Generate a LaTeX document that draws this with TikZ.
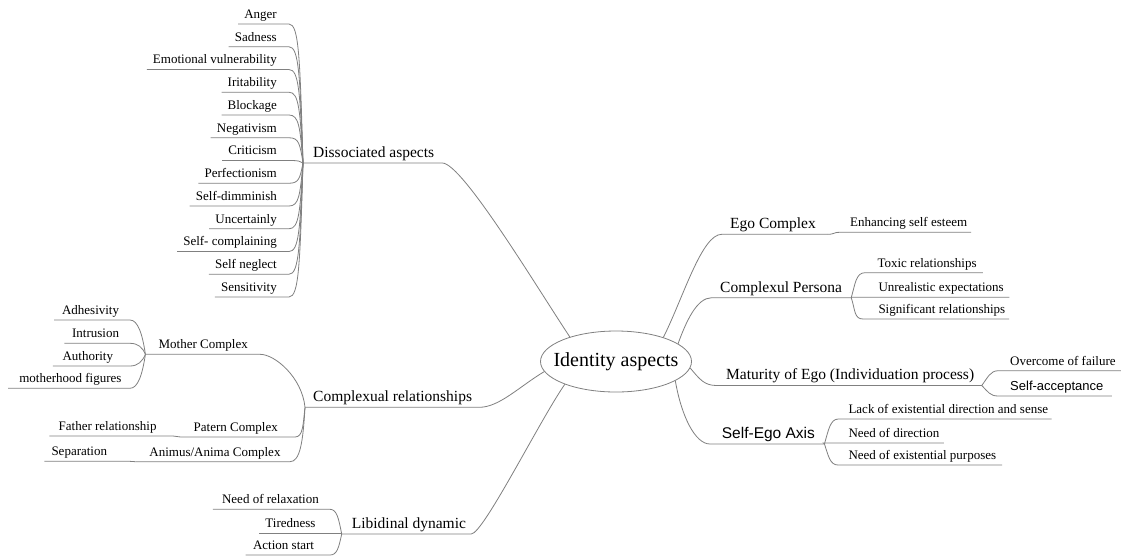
\documentclass[tikz,border=0pt]{standalone}
\usepackage{fontspec}
\setmainfont{Liberation Serif}
\newfontfamily\arialf{Liberation Sans}
\usetikzlibrary{shapes.geometric}
\definecolor{linegray}{RGB}{128,128,128}
\tikzset{
  conn/.style={draw=linegray, line width=0.8pt},
  basenode/.style={inner xsep=0pt, inner ysep=0pt, text depth=5.5pt, text height=10pt, text=black},
  leaf/.style={basenode, font=\fontsize{13}{15}\selectfont},
  leafsans/.style={basenode, font=\arialf\fontsize{13}{15}\selectfont},
  branch/.style={basenode, font=\fontsize{15.5}{18}\selectfont},
  branchsans/.style={basenode, font=\arialf\fontsize{15.5}{18}\selectfont},
  lp/.style={execute at begin node={\hspace*{#1pt}}},
  rp/.style={execute at end node={\hspace*{#1pt}}},
  lside/.style={anchor=south east},
  rside/.style={anchor=south west},
  centre/.style={ellipse, draw=linegray, line width=0.8pt, minimum width=151pt, minimum height=61pt, inner sep=0pt, text=black, font=\fontsize{20}{24}\selectfont}
}
\begin{document}
\begin{tikzpicture}[x=1pt,y=1pt]
\useasboundingbox (0,0) rectangle (1126,-558);
\fill[white] (0,0) rectangle (1126,-558);

\node[centre] (C) at (616,-361.5) {\makebox[0pt][c]{Identity aspects}};

% ---------- Dissociated aspects ----------
\node[branch, rside, lp=10, rp=8] (dis) at (303,-163) {Dissociated aspects};
\draw[conn] (C.152) .. controls +(-32,48) and +(20,0) .. (dis.south east) -- (dis.south west);
\foreach \n/\t/\k in {d1/Anger/0, d2/Sadness/1, d3/Emotional vulnerability/2, d4/Iritability/3,
  d5/Blockage/4, d6/Negativism/5, d7/Criticism/6, d8/Perfectionism/7, d9/Self-dimminish/8,
  d10/Uncertainly/9, d11/Self- complaining/10, d12/Self neglect/11, d13/Sensitivity/12} {
  \pgfmathsetmacro\yy{24+22.75*\k}
  \node[leaf, lside, lp=6, rp=12] (\n) at (289,-\yy) {\t};
  \draw[conn] (dis.south west) .. controls +(-3,{0.75*(163-\yy)}) and +(10,0) .. (\n.south east) -- (\n.south west);
}

% ---------- Complexual relationships ----------
\node[branch, rside, lp=8, rp=7] (cr) at (305,-407.3) {Complexual relationships};
\draw[conn] (C.188) .. controls +(-25,-15) and +(20,0) .. (cr.south east) -- (cr.south west);

\node[leaf, lside, lp=13, rp=12] (mc) at (260,-354.3) {Mother Complex};
\draw[conn] (cr.south west) .. controls +(-3,30) and +(15,0) .. (mc.south east) -- (mc.south west);
\node[leaf, lside, lp=12.7, rp=17] (pc) at (295,-437) {Patern Complex};
\draw[conn] (cr.south west) .. controls +(-2,-18) and +(8,0) .. (pc.south east) -- (pc.south west);
\node[leaf, lside, lp=13.7, rp=9.3] (ac) at (290,-461.7) {Animus/Anima Complex};
\draw[conn] (cr.south west) .. controls +(-2,-35) and +(10,0) .. (ac.south east) -- (ac.south west);

\node[leaf, lside, lp=9, rp=16.3] (fr) at (173,-436) {Father relationship};
\draw[conn] (pc.south west) .. controls +(-4,0) and +(4,0) .. (fr.south east) -- (fr.south west);
\node[leaf, lside, lp=7, rp=20.7] (sep) at (128,-461.2) {Separation};
\draw[conn] (ac.south west) .. controls +(-3,0) and +(3,0) .. (sep.south east) -- (sep.south west);

\node[leaf, lside, lp=7.7, rp=10.7] (m1) at (130,-320) {Adhesivity};
\draw[conn] (mc.south west) .. controls +(-3,20) and +(8,0) .. (m1.south east) -- (m1.south west);
\node[leaf, lside, lp=7.7, rp=10.7] (m2) at (130,-343.3) {Intrusion};
\draw[conn] (mc.south west) .. controls +(-3,7) and +(8,0) .. (m2.south east) -- (m2.south west);
\node[leaf, lside, lp=9.4, rp=16.7] (m3) at (130,-366) {Authority};
\draw[conn] (mc.south west) .. controls +(-3,-7) and +(8,0) .. (m3.south east) -- (m3.south west);
\node[leaf, lside, lp=11, rp=8.3] (m4) at (130,-388.3) {motherhood figures};
\draw[conn] (mc.south west) .. controls +(-3,-20) and +(8,0) .. (m4.south east) -- (m4.south west);

% ---------- Libidinal dynamic ----------
\node[branch, rside, lp=10, rp=5] (ld) at (341.7,-534) {Libidinal dynamic};
\draw[conn] (C.204) .. controls +(-25,-36) and +(12,0) .. (ld.south east) -- (ld.south west);
\node[leaf, lside, lp=9, rp=11] (l1) at (330,-509.3) {Need of relaxation};
\draw[conn] (ld.south west) .. controls +(-3,15) and +(7,0) .. (l1.south east) -- (l1.south west);
\node[leaf, lside, lp=6, rp=26] (l2) at (341.7,-533.5) {Tiredness};
\draw[conn] (ld.south west) -- (l2.south east) -- (l2.south west);
\node[leaf, lside, lp=7.3, rp=15.7] (l3) at (330,-555) {Action start};
\draw[conn] (ld.south west) .. controls +(-3,-14) and +(7,0) .. (l3.south east) -- (l3.south west);

% ---------- Ego Complex ----------
\node[branch, rside, lp=8.3, rp=11.7] (ego) at (721.7,-234.3) {Ego Complex};
\draw[conn] (C.27) .. controls +(20,40) and +(-20,0) .. (ego.south west) -- (ego.south east);
\node[leaf, rside, lp=10, rp=3.7] (ese) at (840,-232.3) {Enhancing self esteem};
\draw[conn] (ego.south east) .. controls +(7,0) and +(-7,0) .. (ese.south west) -- (ese.south east);

% ---------- Complexul Persona ----------
\node[branch, rside, lp=8.3, rp=9] (cp) at (711.7,-297.7) {Complexul Persona};
\draw[conn] (C.16) .. controls +(8,22) and +(-15,0) .. (cp.south west) -- (cp.south east);
\node[leaf, rside, lp=12.3, rp=6] (p1) at (865,-272.7) {Toxic relationships};
\draw[conn] (cp.south east) .. controls +(4,14) and +(-9,0) .. (p1.south west) -- (p1.south east);
\node[leaf, rside, lp=26.6, rp=5.3] (p2) at (851.7,-297.2) {Unrealistic expectations};
\draw[conn] (cp.south east) -- (p2.south west) -- (p2.south east);
\node[leaf, rside, lp=15.3, rp=3.7] (p3) at (863,-319) {Significant relationships};
\draw[conn] (cp.south east) .. controls +(4,-12) and +(-9,0) .. (p3.south west) -- (p3.south east);

% ---------- Maturity of Ego ----------
\node[branch, rside, lp=9.3, rp=7.4] (me) at (716.7,-385.5) {Maturity of Ego (Individuation process)};
\draw[conn] (C.-5) .. controls +(10,-12) and +(-12,0) .. (me.south west) -- (me.south east);
\node[leaf, rside, lp=11.7, rp=5] (o1) at (998.3,-370.7) {Overcome of failure};
\draw[conn] (me.south east) .. controls +(6,8) and +(-8,0) .. (o1.south west) -- (o1.south east);
\node[leafsans, rside, lp=12, rp=8.3] (o2) at (998,-396) {Self-acceptance};
\draw[conn] (me.south east) .. controls +(6,-6) and +(-8,0) .. (o2.south west) -- (o2.south east);

% ---------- Self-Ego Axis ----------
\node[branchsans, rside, lp=11.7, rp=9.3] (sea) at (710,-444) {Self-Ego Axis};
\draw[conn] (C.-18) .. controls +(6,-35) and +(-15,0) .. (sea.south west) -- (sea.south east);
\node[leaf, rside, lp=10, rp=3.3] (s1) at (838.3,-419) {Lack of existential direction and sense};
\draw[conn] (sea.south east) .. controls +(4,14) and +(-8,0) .. (s1.south west) -- (s1.south east);
\node[leaf, rside, lp=25, rp=4.3] (s2) at (823.3,-443) {Need of direction};
\draw[conn] (sea.south east) -- (s2.south west) -- (s2.south east);
\node[leaf, rside, lp=10.3, rp=5.7] (s3) at (838,-465) {Need of existential purposes};
\draw[conn] (sea.south east) .. controls +(4,-12) and +(-8,0) .. (s3.south west) -- (s3.south east);
\end{tikzpicture}
\end{document}
